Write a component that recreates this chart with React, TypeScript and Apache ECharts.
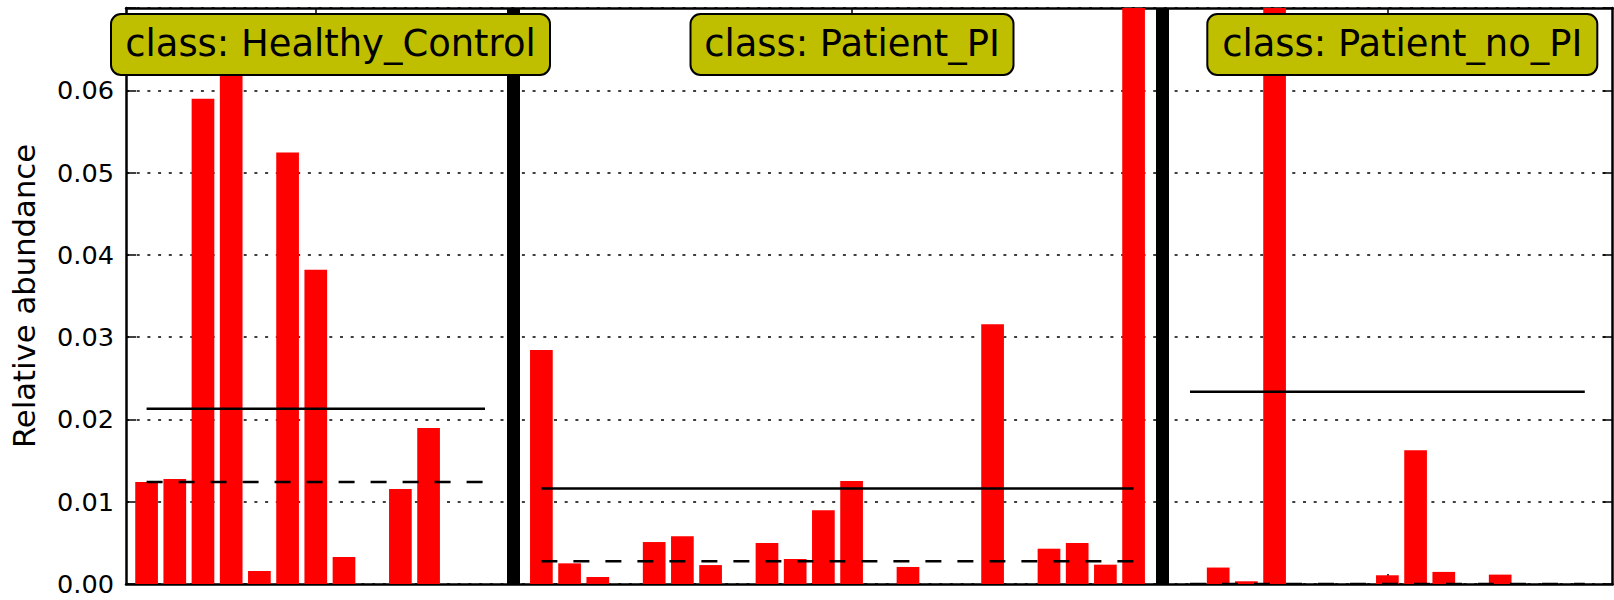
import React, { useEffect, useRef } from "react";
import * as echarts from "echarts";

// ---- data ----
const classNames = ["Healthy_Control", "Patient_PI", "Patient_no_PI"];
const healthyControl = [0.01239, 0.01275, 0.05896, 0.0669, 0.00158, 0.05245, 0.0382, 0.00328, 0, 0.01154, 0.01895, 0, 0];
const patientPI = [0.02845, 0.00251, 0.00085, 0, 0.0051, 0.0058, 0.0023, 0, 0.00498, 0.00304, 0.00895, 0.01251, 0, 0.00207, 0, 0, 0.03157, 0, 0.00429, 0.00498, 0.00235, 0.1355];
const patientNoPI = [0, 0.002, 0.00033, 0.328, 0, 0, 0, 0.00106, 0.01624, 0.00147, 0, 0.00114, 0, 0, 0];
const xTickPositions = [6, 25, 44];

const groups = [healthyControl, patientPI, patientNoPI];

const mean = (a: number[]) => a.reduce((s, v) => s + v, 0) / a.length;
const median = (a: number[]) => {
  const s = [...a].sort((x, y) => x - y);
  const n = s.length;
  return n % 2 ? s[(n - 1) / 2] : (s[n / 2 - 1] + s[n / 2]) / 2;
};

export default function App() {
  const ref = useRef<HTMLDivElement>(null);
  useEffect(() => {
    if (!ref.current) return;
    const chart = echarts.init(ref.current, null, { renderer: "svg" });

    // slot positions: each group is followed by one empty slot holding a separator
    const barData: [number, number][] = [];
    const separators: number[] = [];
    const ranges: [number, number][] = [];
    let pos = 0;
    groups.forEach((g, gi) => {
      const start = pos;
      g.forEach((v) => {
        barData.push([pos, v]);
        pos += 1;
      });
      ranges.push([start, pos - 1]);
      if (gi < groups.length - 1) {
        separators.push(pos);
        pos += 1;
      }
    });

    const font = "DejaVu Sans";
    const lineData: any[] = [];
    separators.forEach((s) =>
      lineData.push({ xAxis: s, lineStyle: { color: "#000", width: 13, type: "solid" } })
    );

    const statSeries: any[] = [];
    groups.forEach((g, gi) => {
      const [a, b] = ranges[gi];
      const m = mean(g);
      const md = median(g);
      statSeries.push({
        type: "line",
        data: [[a, m], [b, m]],
        symbol: "none",
        silent: true,
        z: 5,
        lineStyle: { color: "#000", width: 2.5, type: "solid" },
      });
      statSeries.push({
        type: "line",
        data: [[a, md], [b, md]],
        symbol: "none",
        silent: true,
        z: 5,
        lineStyle: { color: "#000", width: 2.5, type: [16, 16] },
      });
    });

    const boxes = [
      { x: 111, w: 439 },
      { x: 690.5, w: 323 },
      { x: 1207.3, w: 390 },
    ];

    const axisLineStyle = { color: "#000", width: 2.5 };
    const xAxisCommon = {
      type: "value",
      min: -0.73,
      max: 51.99,
      axisLine: { show: true, onZero: false, lineStyle: axisLineStyle },
      axisTick: { show: true, inside: true, length: 10, customValues: xTickPositions, lineStyle: { color: "#000", width: 1.5 } },
      axisLabel: { show: false },
      splitLine: { show: false },
    };
    const yAxisCommon = {
      type: "value",
      min: 0,
      max: 0.07,
      interval: 0.01,
      axisLine: { show: true, onZero: false, lineStyle: axisLineStyle },
      axisTick: { show: true, inside: true, length: 10, lineStyle: { color: "#000", width: 1.5 } },
    };

    chart.setOption({
      animation: false,
      grid: { left: 126, right: 1.3, top: 8, bottom: 16, containLabel: false },
      xAxis: [
        { ...xAxisCommon, position: "bottom" },
        { ...xAxisCommon, position: "top" },
      ],
      yAxis: [
        {
          ...yAxisCommon,
          position: "left",
          name: "Relative abundance",
          nameLocation: "middle",
          nameGap: 86,
          nameTextStyle: { fontFamily: font, fontSize: 30.7, color: "#000" },
          axisLabel: {
            show: true,
            margin: 12,
            fontFamily: font,
            fontSize: 25.6,
            color: "#000",
            formatter: (v: number) => (v > 0.0695 ? "" : v.toFixed(2)),
          },
          splitLine: { show: true, lineStyle: { color: "#000", width: 1.5, type: [3, 7.7] } },
        },
        {
          ...yAxisCommon,
          position: "right",
          axisLabel: { show: false },
          splitLine: { show: false },
        },
      ],
      series: [
        {
          type: "bar",
          xAxisIndex: 0,
          yAxisIndex: 0,
          data: barData,
          barWidth: 22.7,
          itemStyle: { color: "#ff0000" },
          clip: true,
          markLine: {
            silent: true,
            symbol: ["none", "none"],
            label: { show: false },
            data: lineData,
          },
        },
        ...statSeries,
      ],
      graphic: boxes.map((b, i) => ({
        type: "group",
        z: 100,
        children: [
          {
            type: "rect",
            z: 100,
            shape: { x: b.x, y: 14, width: b.w, height: 61, r: 10 },
            style: { fill: "#bfbf00", stroke: "#000", lineWidth: 2 },
          },
          {
            type: "text",
            z: 101,
            x: b.x + b.w / 2,
            y: 43,
            style: {
              text: "class: " + classNames[i],
              fontFamily: font,
              fontSize: 36.9,
              fill: "#000",
              align: "center",
              verticalAlign: "middle",
            },
          },
        ],
      })),
    });
    return () => chart.dispose();
  }, []);
  return (
    <div
      ref={ref}
      style={{ position: "absolute", left: 0, top: 0, width: 1614, height: 600, background: "#fff" }}
    />
  );
}
